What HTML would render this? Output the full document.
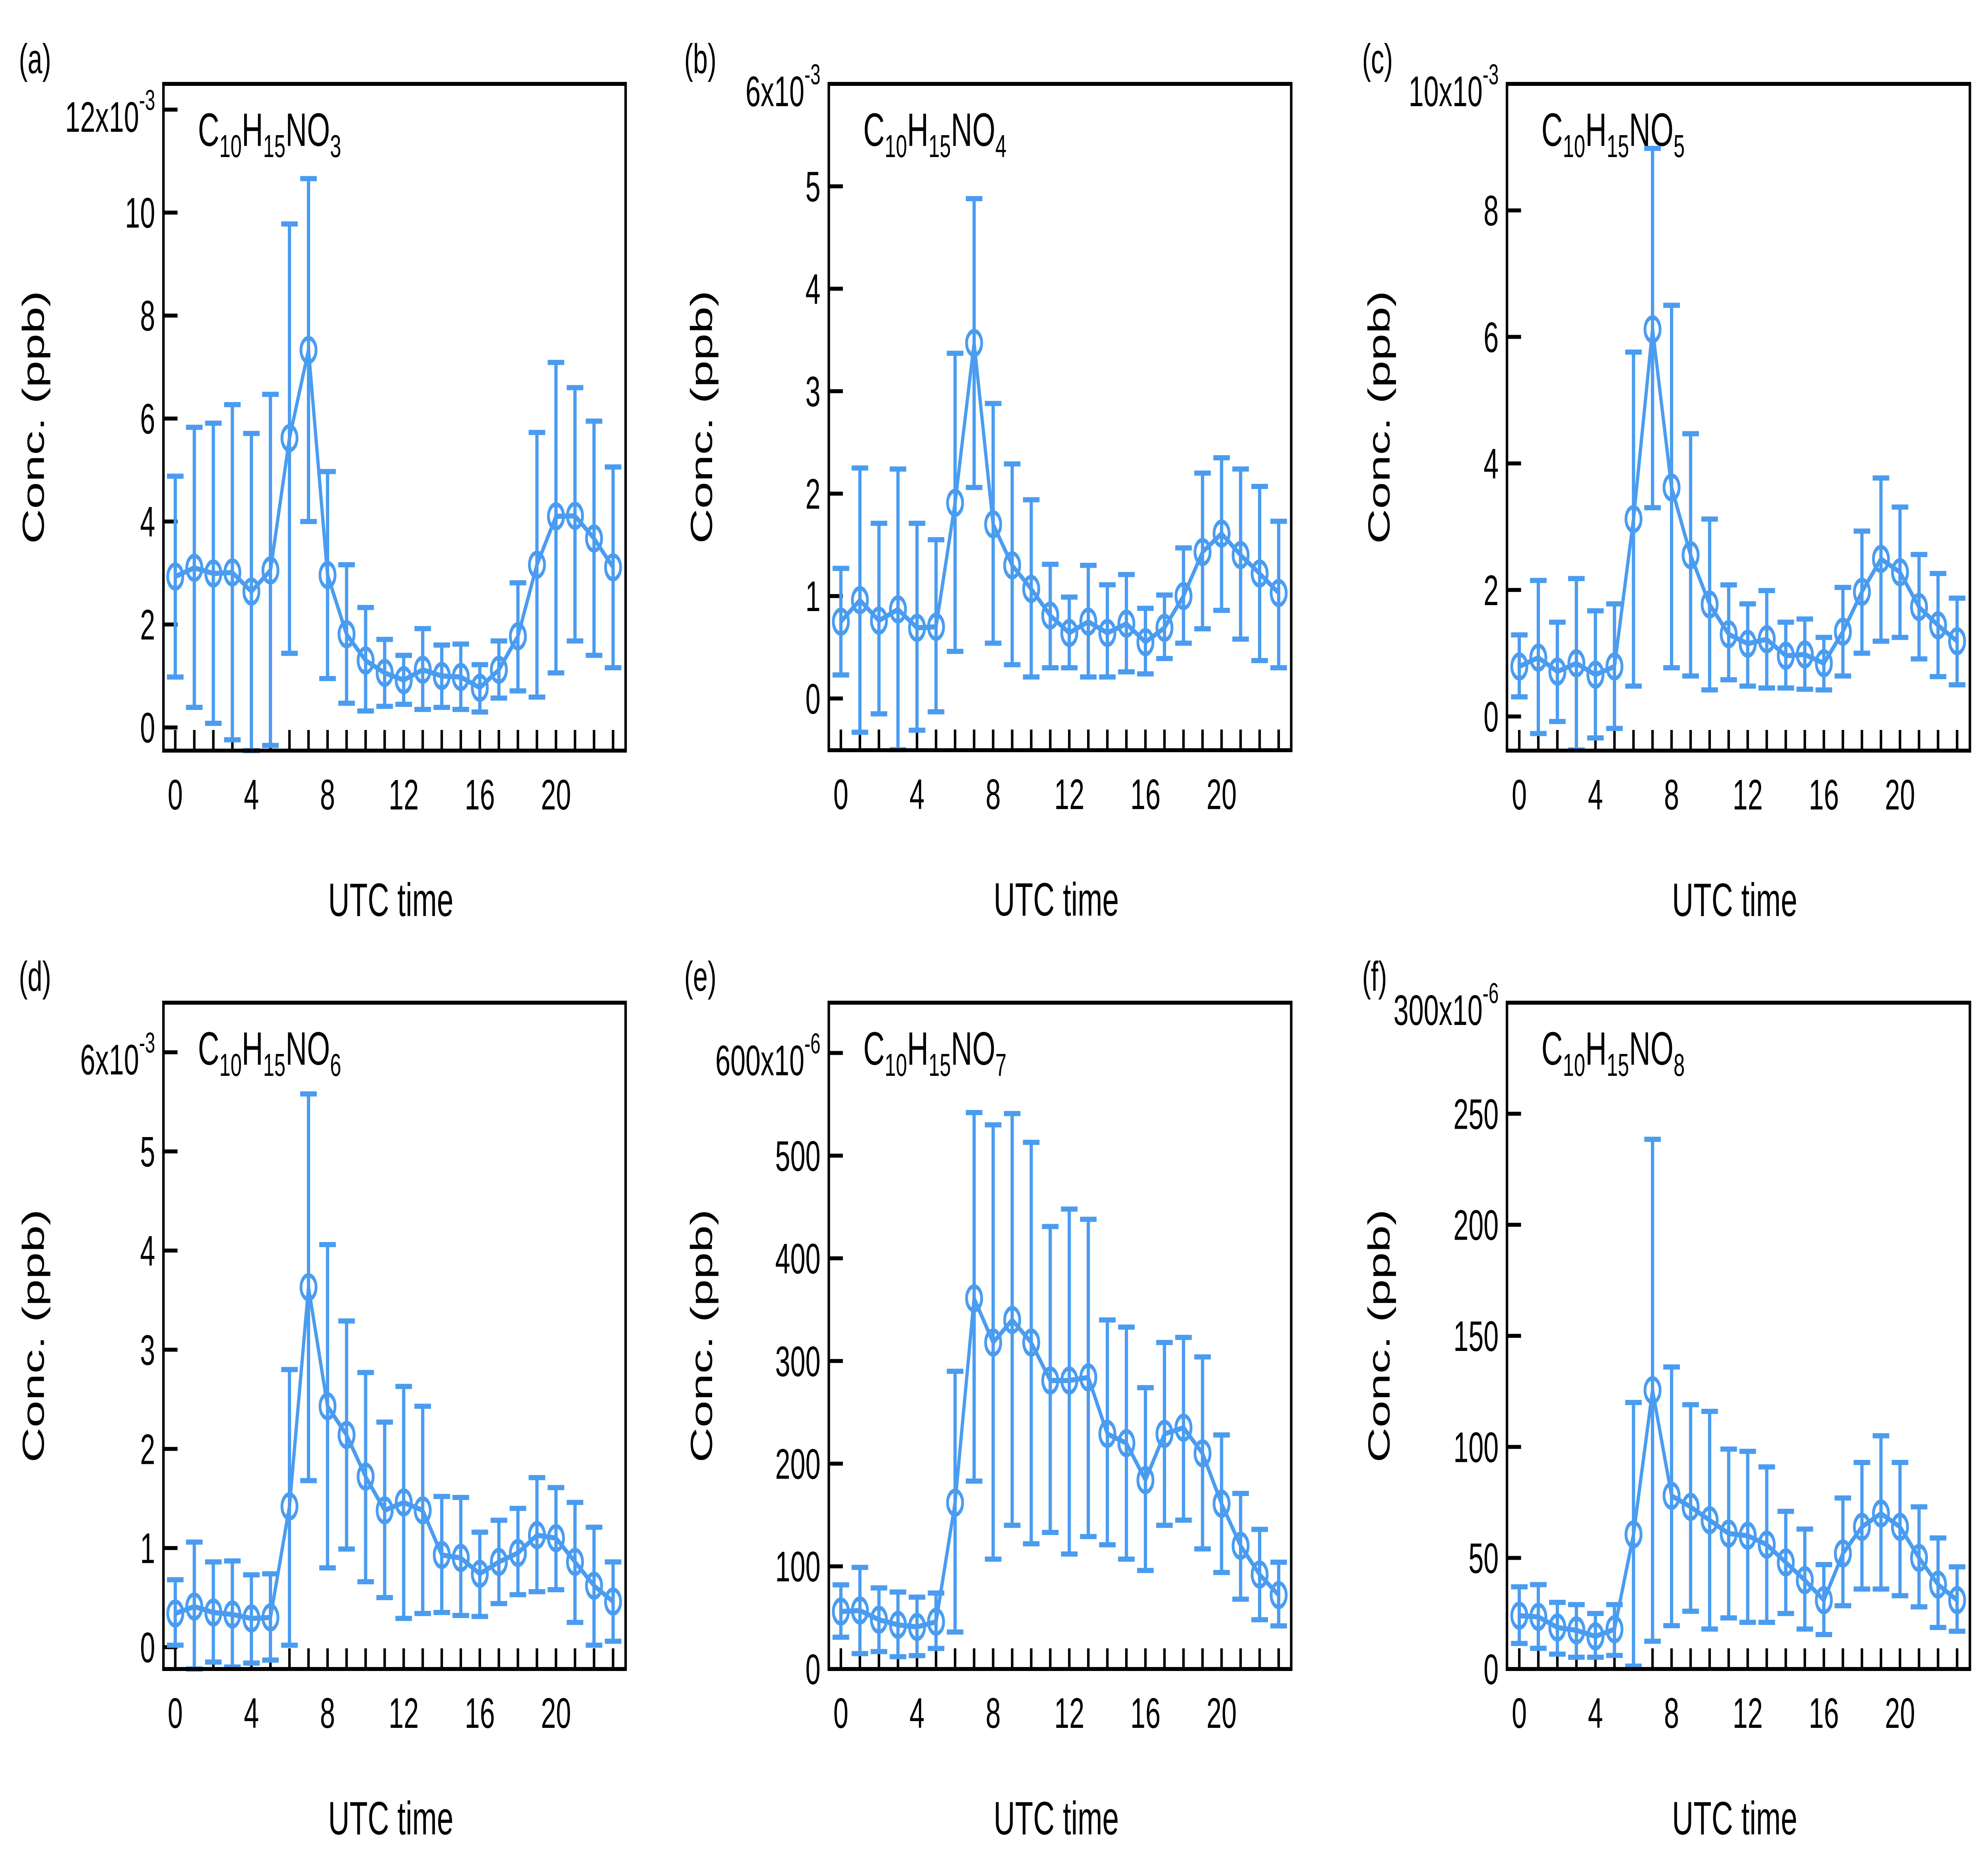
<!DOCTYPE html>
<html><head><meta charset="utf-8">
<style>
html,body{margin:0;padding:0;background:#fff;overflow:hidden;width:100%;height:100%;}
svg{display:block;font-family:"Liberation Sans",Arial,sans-serif;width:100vw;height:100vh;}
</style></head>
<body>
<svg id="fig" viewBox="0 0 7906 4696" preserveAspectRatio="none" xmlns="http://www.w3.org/2000/svg"></svg>
<script>
const hours = [0,1,2,3,4,5,6,7,8,9,10,11,12,13,14,15,16,17,18,19,20,21,22,23];

const meanA = [2.93,3.1,2.99,3.01,2.64,3.05,5.62,7.33,2.96,1.81,1.3,1.06,0.92,1.12,1.0,0.98,0.77,1.12,1.77,3.16,4.1,4.11,3.67,3.11];
const upA   = [4.88,5.83,5.91,6.27,5.71,6.47,9.78,10.66,4.97,3.16,2.33,1.71,1.40,1.92,1.60,1.62,1.22,1.68,2.81,5.73,7.09,6.6,5.95,5.06];
const loA   = [0.98,0.39,0.08,-0.24,-0.45,-0.35,1.44,4.0,0.95,0.47,0.32,0.41,0.45,0.35,0.39,0.35,0.30,0.57,0.71,0.59,1.06,1.68,1.40,1.16];

const meanB = [0.75,0.96,0.76,0.87,0.69,0.70,1.91,3.47,1.70,1.30,1.07,0.81,0.64,0.75,0.64,0.73,0.55,0.69,1.0,1.43,1.61,1.40,1.22,1.03];
const upB   = [1.27,2.25,1.71,2.24,1.71,1.55,3.37,4.88,2.88,2.29,1.94,1.31,0.99,1.30,1.11,1.21,0.88,1.01,1.47,2.20,2.35,2.24,2.07,1.73];
const loB   = [0.23,-0.33,-0.15,-0.5,-0.31,-0.13,0.46,2.06,0.54,0.33,0.21,0.30,0.30,0.21,0.21,0.26,0.24,0.39,0.54,0.68,0.86,0.58,0.37,0.30];

const meanC = [0.79,0.93,0.71,0.84,0.66,0.79,3.12,6.12,3.62,2.55,1.77,1.30,1.15,1.22,0.96,0.98,0.84,1.34,1.97,2.49,2.28,1.73,1.44,1.19];
const upC   = [1.29,2.15,1.49,2.18,1.67,1.78,5.76,8.98,6.5,4.47,3.12,2.08,1.78,1.99,1.49,1.54,1.25,2.04,2.93,3.77,3.31,2.56,2.26,1.87];
const loC   = [0.31,-0.27,-0.08,-0.53,-0.34,-0.19,0.48,3.30,0.77,0.64,0.42,0.58,0.48,0.45,0.45,0.43,0.42,0.64,1.0,1.19,1.25,0.91,0.63,0.50];

const meanD = [0.34,0.41,0.35,0.33,0.29,0.30,1.42,3.63,2.43,2.14,1.72,1.38,1.46,1.38,0.93,0.90,0.74,0.86,0.95,1.13,1.10,0.86,0.62,0.46];
const upD   = [0.68,1.06,0.86,0.87,0.73,0.74,2.80,5.58,4.06,3.29,2.77,2.27,2.63,2.43,1.52,1.51,1.16,1.28,1.40,1.71,1.61,1.46,1.21,0.86];
const loD   = [0.02,-0.22,-0.15,-0.2,-0.16,-0.13,0.02,1.68,0.80,0.99,0.66,0.50,0.29,0.34,0.35,0.32,0.31,0.44,0.53,0.56,0.58,0.25,0.02,0.06];

const meanE = [56,57,48,43,41,46,162,361,318,340,318,281,281,284,229,220,184,229,235,210,161,120,92,72];
const upE   = [82,99,79,75,70,74,290,542,530,541,513,431,448,438,340,333,274,318,323,304,228,171,136,104];
const loE   = [31,15,17,12,13,20,36,183,107,140,122,133,112,129,121,107,96,140,145,117,94,68,48,42];

const meanF = [24,23.5,18.7,17.4,14.7,17.9,60.6,125.5,78,73,67,61,60,56,48,40,31,52,64,70,64,50,38,31];
const upF   = [37,38,30,29,25,29,120,238.5,136,119,116,99,98,91,71,63,47,77,93,105,93,73,59,46];
const loF   = [11.5,9.3,6.7,5.3,5.3,6.1,1.3,12.5,19.5,26,18,23,21,21,25,18,15.5,28.5,36,36,33,28,18.7,17];

const xTicks = [0,4,8,12,16,20];
const yTicksA = [0,2,4,6,8,10,12];
const yTicksB = [0,1,2,3,4,5,6];
const yTicksC = [0,2,4,6,8,10];
const yTicksD = [0,1,2,3,4,5,6];
const yTicksE = [0,100,200,300,400,500,600];
const yTicksF = [0,50,100,150,200,250,300];
const topExpA = "-3", topExpB = "-3", topExpC = "-3", topExpD = "-3", topExpE = "-6", topExpF = "-6";

const NS = "http://www.w3.org/2000/svg";
const svg = document.getElementById('fig');
const COLOR = "#4a9cf0";
function mk(tag, attrs, parent){ const e=document.createElementNS(NS,tag); for(const k in attrs) e.setAttribute(k,attrs[k]); (parent||svg).appendChild(e); return e; }

const panels = [
 {id:'a',L:650,R:2488,T:211,B:1888,x0:697,ymin:-0.45,ymax:12.5,ticks:yTicksA,exp:topExpA,mean:meanA,up:upA,lo:loA,sub:'3',letterX:75,letterY:184,ylabX:133},
 {id:'b',L:3296,R:5135,T:211,B:1887,x0:3344,ymin:-0.505,ymax:6.0,ticks:yTicksB,exp:topExpB,mean:meanB,up:upB,lo:loB,sub:'4',letterX:2721,letterY:184,ylabX:2790},
 {id:'c',L:5993,R:7834,T:211,B:1888,x0:6042,ymin:-0.54,ymax:10,ticks:yTicksC,exp:topExpC,mean:meanC,up:upC,lo:loC,sub:'5',letterX:5417,letterY:184,ylabX:5484},
 {id:'d',L:650,R:2488,T:2522,B:4198,x0:697,ymin:-0.22,ymax:6.5,ticks:yTicksD,exp:topExpD,mean:meanD,up:upD,lo:loD,sub:'6',letterX:75,letterY:2492,ylabX:133},
 {id:'e',L:3296,R:5135,T:2522,B:4198,x0:3344,ymin:0,ymax:649,ticks:yTicksE,exp:topExpE,mean:meanE,up:upE,lo:loE,sub:'7',letterX:2721,letterY:2492,ylabX:2790},
 {id:'f',L:5993,R:7834,T:2522,B:4198,x0:6042,ymin:0,ymax:300,ticks:yTicksF,exp:topExpF,mean:meanF,up:upF,lo:loF,sub:'8',letterX:5417,letterY:2492,ylabX:5484}
];
const perHour = 75.7;

panels.forEach(p=>{
  const g = mk('g',{});
  
  
  const X = h => p.x0 + h*perHour;
  const Y = v => p.B - (v - p.ymin)/(p.ymax - p.ymin)*(p.B - p.T);

  const lt = mk('text',{x:p.letterX,y:p.letterY,'font-size':105,fill:'#000'},g);
  lt.textContent='('+p.id+')';
  
  

  p.ticks.forEach((t,i)=>{
    const y=Y(t);
    const tk=mk('line',{x1:p.L,x2:p.L+56,y1:y,y2:y,stroke:'#000','stroke-width':10},g);
    
    
    const last = i===p.ticks.length-1;
    const tx=mk('text',{x:p.L-33,y:y+38+(last?18:0),'font-size':108,'text-anchor':'end',fill:'#000'},g);
    
    
    if(last){
      const s1=document.createElementNS(NS,'tspan'); s1.textContent=t+'x10'; tx.appendChild(s1);
      const s2=document.createElementNS(NS,'tspan'); s2.setAttribute('font-size','72'); s2.setAttribute('dy','-55'); s2.textContent=p.exp; tx.appendChild(s2);
    } else tx.textContent=t;
  });
  hours.forEach(h=>{
    const x=X(h);
    const tk=mk('line',{x1:x,x2:x,y1:p.B,y2:p.B-52,stroke:'#000','stroke-width':10},g);
    
    
  });
  xTicks.forEach(h=>{
    const tx=mk('text',{x:X(h),y:p.B+148,'font-size':108,'text-anchor':'middle',fill:'#000'},g);
    tx.textContent=h;
    
    
  });
  const xl=mk('text',{x:(p.L+p.R)/2-15,y:p.B+416,'font-size':118,'text-anchor':'middle',fill:'#000'},g);
  xl.textContent='UTC time';
  
  
  const cy=(p.T+p.B)/2;
  const yl=mk('text',{x:p.ylabX+42,y:cy,'font-size':122,'text-anchor':'middle',fill:'#000',transform:`rotate(-90 ${p.ylabX+42} ${cy})`},g);
  yl.textContent='Conc.  (ppb)';
  yl.setAttribute('xml:space','preserve');
  
  
  const ft=mk('text',{x:p.L+137,y:p.T+156,'font-size':118,fill:'#000'},g);
  
  
  [['C',0],['10',1],['H',0],['15',1],['NO',0],[p.sub,1]].forEach(([s,sub],i)=>{
    const ts=document.createElementNS(NS,'tspan'); ts.textContent=s;
    if(sub){ts.setAttribute('font-size','80');ts.setAttribute('dy','28');}
    else if(i>0){ts.setAttribute('dy','-28');}
    ft.appendChild(ts);
  });

  hours.forEach((h,i)=>{
    const x=X(h), yu=Y(p.up[i]), yd=Y(p.lo[i]);
    const eb=mk('g',{stroke:COLOR,'stroke-width':13},g);
    
    
    mk('line',{x1:x,x2:x,y1:yu,y2:yd},eb);
    mk('line',{x1:x-33,x2:x+33,y1:yu,y2:yu},eb);
    mk('line',{x1:x-33,x2:x+33,y1:yd,y2:yd},eb);
  });
  const pts=hours.map((h,i)=>X(h)+','+Y(p.mean[i])).join(' ');
  const pl=mk('polyline',{points:pts,fill:'none',stroke:COLOR,'stroke-width':13,'stroke-linejoin':'round'},g);
  
  
  hours.forEach((h,i)=>{
    const c=mk('circle',{cx:X(h),cy:Y(p.mean[i]),r:30,fill:'none',stroke:COLOR,'stroke-width':11},g);
    
    
  });
  const fr=mk('rect',{x:p.L,y:p.T,width:p.R-p.L,height:p.B-p.T,fill:'none',stroke:'#000','stroke-width':10},g);
  
  
});
</script>
</body></html>
